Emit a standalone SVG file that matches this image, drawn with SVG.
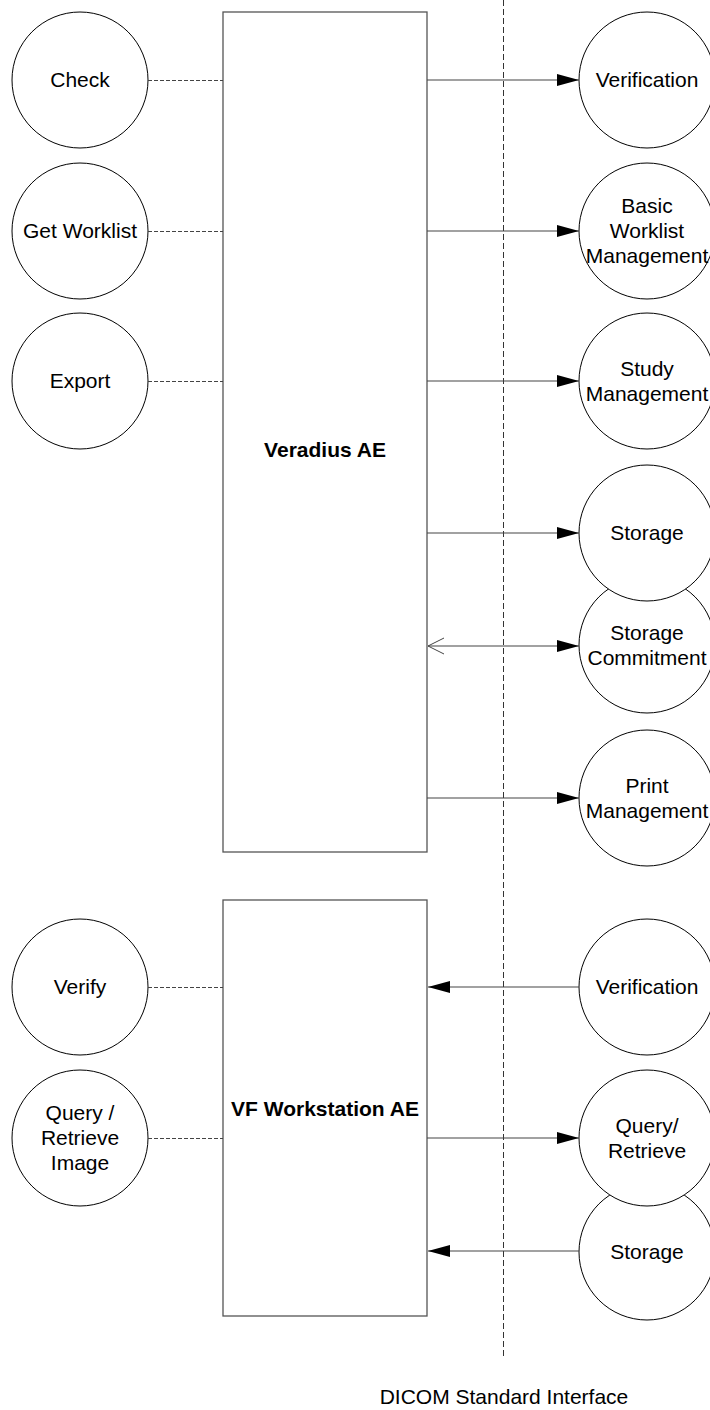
<svg xmlns="http://www.w3.org/2000/svg" width="710" height="1410" viewBox="0 0 710 1410">
<style>
text{font-family:"Liberation Sans",Arial,sans-serif;font-size:21px;fill:#000;text-anchor:middle}
.b{font-weight:bold}
circle{fill:#fff;stroke:#000;stroke-width:1}
rect{fill:#fff;stroke:#555;stroke-width:1.3}
.dash{stroke:#444;stroke-width:1;stroke-dasharray:4,2;fill:none}
.ln{stroke:#444;stroke-width:1.2;fill:none}
.vd{stroke:#333;stroke-width:1;stroke-dasharray:6,3;fill:none}
</style>
<defs>
<marker id="ah" markerUnits="userSpaceOnUse" markerWidth="22" markerHeight="12" refX="22" refY="6" orient="auto">
<polygon points="0,0 22,6 0,12" fill="#000"/>
</marker>
<marker id="oh" markerUnits="userSpaceOnUse" markerWidth="18" markerHeight="18" refX="16" refY="9" orient="auto-start-reverse">
<polyline points="0,1 16,9 0,17" fill="none" stroke="#444" stroke-width="1"/>
</marker>
</defs>
<g id="veradius"><rect x="223" y="12" width="204" height="840"/><text class="b" x="325" y="457">Veradius AE</text></g>
<g id="vfws"><rect x="223" y="900" width="204" height="416"/><text class="b" x="325" y="1116">VF Workstation AE</text></g>
<g id="check"><circle cx="80" cy="80" r="68"/><text x="80" y="87">Check</text></g>
<g id="getworklist"><circle cx="80" cy="231" r="68"/><text x="80" y="238">Get Worklist</text></g>
<g id="export"><circle cx="80" cy="381" r="68"/><text x="80" y="388">Export</text></g>
<g id="verify"><circle cx="80" cy="987" r="68"/><text x="80" y="994">Verify</text></g>
<g id="qrimage"><circle cx="80" cy="1138" r="68"/><text x="80" y="1120">Query /</text><text x="80" y="1145">Retrieve</text><text x="80" y="1170">Image</text></g>
<g id="verification1"><circle cx="647" cy="80" r="68"/><text x="647" y="87">Verification</text></g>
<g id="bwm"><circle cx="647" cy="231" r="68"/><text x="647" y="213">Basic</text><text x="647" y="238">Worklist</text><text x="647" y="263">Management</text></g>
<g id="study"><circle cx="647" cy="381" r="68"/><text x="647" y="376">Study</text><text x="647" y="401">Management</text></g>
<g id="storagecommit"><circle cx="647" cy="645" r="68"/><text x="647" y="640">Storage</text><text x="647" y="665">Commitment</text></g>
<g id="storage1"><circle cx="647" cy="533" r="68"/><text x="647" y="540">Storage</text></g>
<g id="print"><circle cx="647" cy="798" r="68"/><text x="647" y="793">Print</text><text x="647" y="818">Management</text></g>
<g id="verification2"><circle cx="647" cy="987" r="68"/><text x="647" y="994">Verification</text></g>
<g id="storage2"><circle cx="647" cy="1252" r="68"/><text x="647" y="1259">Storage</text></g>
<g id="qr"><circle cx="647" cy="1138" r="68"/><text x="647" y="1133">Query/</text><text x="647" y="1158">Retrieve</text></g>
<g id="connectors">
<line class="vd" x1="503.5" y1="0" x2="503.5" y2="1358"/>
<line class="dash" x1="148" y1="80.5" x2="223" y2="80.5"/>
<line class="dash" x1="148" y1="231.5" x2="223" y2="231.5"/>
<line class="dash" x1="148" y1="381.5" x2="223" y2="381.5"/>
<line class="dash" x1="148" y1="987.5" x2="223" y2="987.5"/>
<line class="dash" x1="148" y1="1138.5" x2="223" y2="1138.5"/>
<line class="ln" x1="427" y1="80" x2="579" y2="80" marker-end="url(#ah)"/>
<line class="ln" x1="427" y1="231" x2="579" y2="231" marker-end="url(#ah)"/>
<line class="ln" x1="427" y1="381" x2="579" y2="381" marker-end="url(#ah)"/>
<line class="ln" x1="427" y1="533" x2="579" y2="533" marker-end="url(#ah)"/>
<line class="ln" x1="428" y1="646" x2="579" y2="646" marker-end="url(#ah)" marker-start="url(#oh)"/>
<line class="ln" x1="427" y1="798" x2="579" y2="798" marker-end="url(#ah)"/>
<line class="ln" x1="579" y1="987" x2="428" y2="987" marker-end="url(#ah)"/>
<line class="ln" x1="427" y1="1138" x2="579" y2="1138" marker-end="url(#ah)"/>
<line class="ln" x1="579" y1="1251" x2="428" y2="1251" marker-end="url(#ah)"/>
</g>
<text x="504" y="1404">DICOM Standard Interface</text>
</svg>
